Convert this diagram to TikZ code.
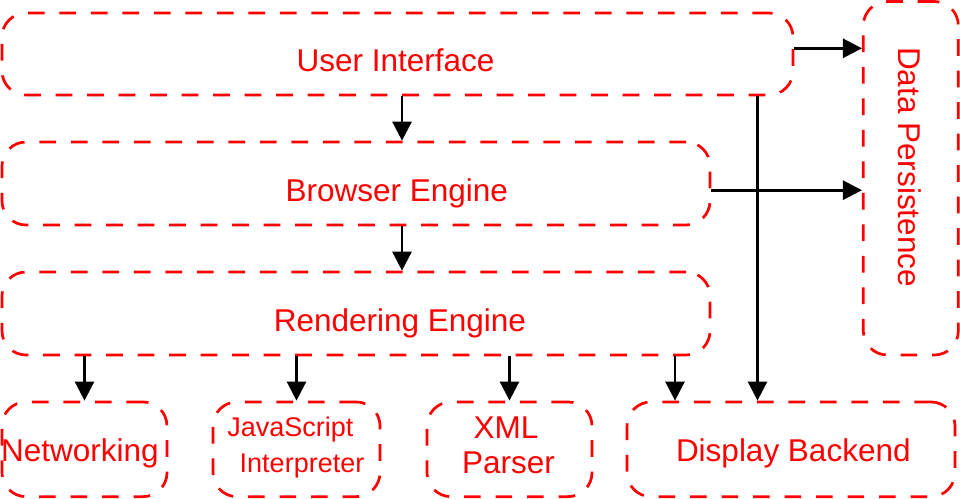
\documentclass[tikz,border=0pt]{standalone}
\usepackage{fontspec}
\setmainfont{Liberation Sans}
\usetikzlibrary{arrows.meta}
\definecolor{boxred}{RGB}{255,0,0}
\tikzset{
  box/.style={draw=boxred, line width=2.7pt, dash pattern=on 16.7pt off 14.8pt,
    rounded corners=24pt, inner sep=0pt, shape=rectangle},
  lbl/.style={text=boxred, inner sep=0pt, anchor=base, font=\fontsize{31.5}{35}\selectfont},
  lblsmall/.style={lbl, font=\fontsize{27}{35}\selectfont},
  arr/.style={draw=black, line width=2.7pt, -{Triangle[length=19pt,width=19pt]}},
  ln/.style={draw=black, line width=2.7pt}
}
\begin{document}
\begin{tikzpicture}[x=1pt,y=-1pt]
\useasboundingbox (0,0) rectangle (960,498);
% boxes
\node[box, minimum width=791pt, minimum height=82pt] (ui) at (397.5,54) {};
\node[box, minimum width=708pt, minimum height=83pt] (be) at (356,183.5) {};
\node[box, minimum width=708pt, minimum height=83pt] (re) at (356,313.5) {};
\node[box, minimum width=95pt, minimum height=353.5pt] (dp) at (910.8,178.25) {};
\node[box, minimum width=165pt, minimum height=94.7pt] (net) at (84.5,449.3) {};
\node[box, minimum width=167pt, minimum height=94.7pt] (js) at (296.5,449.3) {};
\node[box, minimum width=165pt, minimum height=94.7pt] (xml) at (509.5,449.3) {};
\node[box, minimum width=328pt, minimum height=94.7pt] (db) at (791,449.3) {};
% labels
\node[lbl] (uit) at (395.5,71.7) {User Interface};
\node[lbl] (bet) at (396.7,201.7) {Browser Engine};
\node[lbl] (ret) at (400,331.7) {Rendering Engine};
\node[lbl, rotate=-90] (dpt) at (898.3,167) {Data Persistence};
\node[lbl] (nett) at (80,461.7) {Networking};
\node[lblsmall] (jst1) at (290.3,436.7) {JavaScript};
\node[lblsmall] (jst2) at (302,472.3) {Interpreter};
\node[lbl] (xmlt1) at (506,438) {XML};
\node[lbl] (xmlt2) at (508.5,473) {Parser};
\node[lbl] (dbt) at (793.3,461.7) {Display Backend};
% connector end points
\coordinate (dbin1) at ([xshift=-116pt]db.north);
\coordinate (dbin2) at ([xshift=-33.5pt]db.north);
% connectors
\draw[arr] ([xshift=4.5pt]ui.south) -- ([xshift=4.5pt]ui.south |- be.north);
\draw[arr] ([xshift=46pt]be.south) -- ([xshift=46pt]be.south |- re.north);
\draw[arr] (re.south -| net.north) -- (net.north);
\draw[arr] (re.south -| js.north) -- (js.north);
\draw[arr] (re.south -| xml.north) -- (xml.north);
\draw[arr] (re.south -| dbin1) -- (dbin1);
\draw[arr] (ui.south -| dbin2) -- (dbin2);
\draw[arr] ([yshift=5.7pt]ui.east) -- ([yshift=5.7pt]ui.east -| dp.west);
\draw[arr] ([yshift=-6.7pt]be.east) -- ([yshift=-6.7pt]be.east -| dp.west);
\end{tikzpicture}
\end{document}
